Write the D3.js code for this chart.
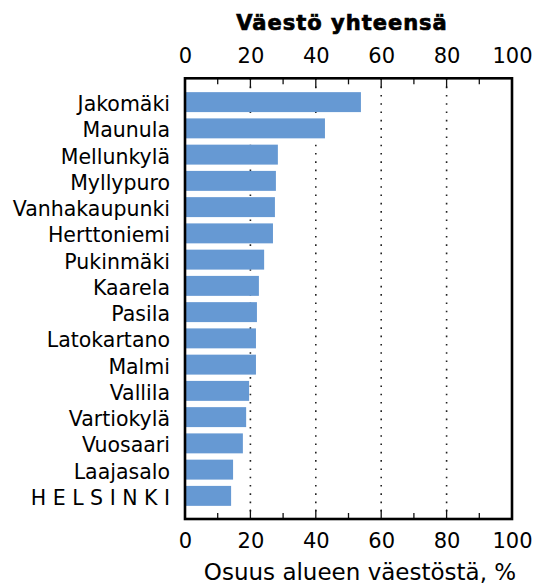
<!DOCTYPE html>
<html>
<head>
<meta charset="utf-8">
<script src="https://cdn.jsdelivr.net/npm/d3@7"></script>
<style>
  body { margin: 0; background: #fff; }
  text { font-family: "DejaVu Sans", sans-serif; fill: #000; }
</style>
</head>
<body>
<div id="wrapper"></div>
<script>
// Data
const areaNames = [
  "Jakomäki", "Maunula", "Mellunkylä", "Myllypuro", "Vanhakaupunki",
  "Herttoniemi", "Pukinmäki", "Kaarela", "Pasila", "Latokartano",
  "Malmi", "Vallila", "Vartiokylä", "Vuosaari", "Laajasalo", "HELSINKI"
]
const shareValues = [
  53.8, 42.8, 28.4, 27.8, 27.5,
  26.9, 24.2, 22.6, 22.0, 21.7,
  21.7, 19.6, 18.7, 17.7, 14.7, 14.1
]
const majorTicks = [0, 20, 40, 60, 80, 100]
const gridValues = [20, 40, 60, 80]
const chartTitle = "Väestö yhteensä"
const axisTitle = "Osuus alueen väestöstä, %"

const dataset = areaNames.map((name, i) => ({ name, value: shareValues[i] }))

// dimensions
const dimensions = {
  width: 544,
  height: 586,
  plotLeft: 185,
  plotRight: 512,
  plotTop: 78.3,
  plotBottom: 519,
}

const wrapper = d3.select("#wrapper")
  .append("svg")
    .attr("width", dimensions.width)
    .attr("height", dimensions.height)

wrapper.append("rect")
  .attr("width", dimensions.width)
  .attr("height", dimensions.height)
  .attr("fill", "#fff")

// scales
const xScale = d3.scaleLinear()
  .domain([0, 100])
  .range([dimensions.plotLeft, dimensions.plotRight])

const yScale = d3.scaleBand()
  .domain(areaNames)
  .range([89, 509])
  .paddingInner(0.24)
  .paddingOuter(0.12)

// gridlines
wrapper.append("g")
  .selectAll("line")
  .data(gridValues)
  .enter().append("line")
    .attr("x1", d => xScale(d))
    .attr("x2", d => xScale(d))
    .attr("y1", dimensions.plotTop)
    .attr("y2", dimensions.plotBottom)
    .attr("stroke", "#222")
    .attr("stroke-width", 1.6)
    .attr("stroke-dasharray", "1.6 6.7")

// bars
wrapper.append("g")
  .selectAll("rect")
  .data(dataset)
  .enter().append("rect")
    .attr("x", xScale(0))
    .attr("y", d => yScale(d.name))
    .attr("width", d => xScale(d.value) - xScale(0))
    .attr("height", yScale.bandwidth())
    .attr("fill", "#6699d3")

// inward ticks
const tickValues = xScale.ticks(10).filter(d => d > 0 && d < 100)
const tickLen = d => d % 20 == 0 ? 9.5 : 6
const ticksGroup = wrapper.append("g")
  .attr("stroke", "#111")
  .attr("stroke-width", 1.3)
ticksGroup.selectAll(".tick-top")
  .data(tickValues)
  .enter().append("line")
    .attr("x1", d => xScale(d))
    .attr("x2", d => xScale(d))
    .attr("y1", dimensions.plotTop)
    .attr("y2", d => dimensions.plotTop + tickLen(d))
ticksGroup.selectAll(".tick-bottom")
  .data(tickValues)
  .enter().append("line")
    .attr("x1", d => xScale(d))
    .attr("x2", d => xScale(d))
    .attr("y1", dimensions.plotBottom)
    .attr("y2", d => dimensions.plotBottom - tickLen(d))

// frame
wrapper.append("rect")
  .attr("x", dimensions.plotLeft)
  .attr("y", dimensions.plotTop)
  .attr("width", dimensions.plotRight - dimensions.plotLeft)
  .attr("height", dimensions.plotBottom - dimensions.plotTop)
  .attr("fill", "none")
  .attr("stroke", "#000")
  .attr("stroke-width", 2.6)

// axes labels
const topAxis = wrapper.append("g")
  .attr("transform", `translate(0, ${dimensions.plotTop})`)
  .call(d3.axisTop(xScale).tickValues(majorTicks).tickSize(0).tickPadding(15))
const bottomAxis = wrapper.append("g")
  .attr("transform", `translate(0, ${dimensions.plotBottom})`)
  .call(d3.axisBottom(xScale).tickValues(majorTicks).tickSize(0).tickPadding(14))
;[topAxis, bottomAxis].forEach(axis => {
  axis.select(".domain").remove()
  axis.selectAll("text")
    .attr("font-family", "DejaVu Sans, sans-serif")
    .attr("font-size", 21)
    .attr("fill", "#000")
})

// category labels
wrapper.append("g")
  .selectAll("text")
  .data(dataset)
  .enter().append("text")
    .attr("x", d => d.name == "HELSINKI" ? 170 + 6.5 : 170)
    .attr("y", d => yScale(d.name) + yScale.bandwidth() / 2 + 9)
    .attr("text-anchor", "end")
    .attr("font-size", 20.5)
    .attr("letter-spacing", d => d.name == "HELSINKI" ? 6.5 : 0)
    .text(d => d.name)

// titles
wrapper.append("text")
  .attr("x", 342)
  .attr("y", 30)
  .attr("text-anchor", "middle")
  .attr("font-size", 21)
  .attr("font-weight", "bold")
  .attr("letter-spacing", 1)
  .attr("stroke", "#000")
  .attr("stroke-width", 0.7)
  .text(chartTitle)

wrapper.append("text")
  .attr("x", 360)
  .attr("y", 580)
  .attr("text-anchor", "middle")
  .attr("font-size", 23)
  .text(axisTitle)
</script>
</body>
</html>
